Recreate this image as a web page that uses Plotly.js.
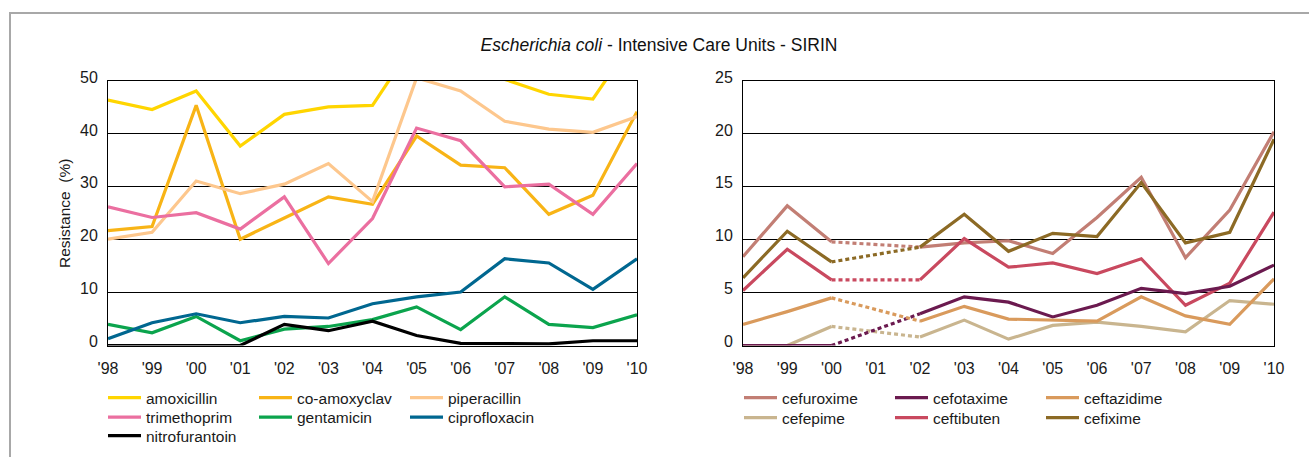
<!DOCTYPE html>
<html><head><meta charset="utf-8">
<script src="https://cdn.plot.ly/plotly-3.0.1.min.js"></script>
<style>
html,body{margin:0;padding:0;background:#fff;overflow:hidden}
#chart{position:absolute;left:0;top:0;width:1309px;height:457px}
#frame{position:absolute;left:9px;top:12px;width:1320px;height:460px;border-left:2px solid #a8a8a8;border-top:2px solid #a8a8a8;pointer-events:none}
</style></head>
<body><div id="chart"></div><div id="frame"></div>
<script>
// ---- data ----
const years = ["'98","'99","'00","'01","'02","'03","'04","'05","'06","'07","'08","'09","'10"];

const amoxicillin    = [46.4, 44.6, 48.1, 37.7, 43.7, 45.1, 45.4, 57.9, 57.0, 50.3, 47.5, 46.6, 58.8];
const coAmoxyclav    = [21.7, 22.5, 45.4, 20.1, 24.1, 28.1, 26.7, 39.6, 34.1, 33.6, 24.8, 28.4, 44.2];
const piperacillin   = [20.1, 21.4, 31.1, 28.7, 30.5, 34.4, 27.2, 50.6, 48.1, 42.4, 40.9, 40.3, 43.3];
const trimethoprim   = [26.2, 24.2, 25.1, 22.0, 28.1, 15.5, 24.0, 41.1, 38.7, 30.0, 30.5, 24.8, 34.4];
const gentamicin     = [4.0, 2.4, 5.5, 0.9, 3.1, 3.6, 4.9, 7.3, 3.0, 9.2, 4.0, 3.4, 5.8];
const ciprofloxacin  = [1.3, 4.3, 6.0, 4.3, 5.5, 5.2, 7.9, 9.2, 10.1, 16.4, 15.6, 10.6, 16.4];
const nitrofurantoin = [0, 0, 0, 0, 4.0, 2.8, 4.6, 1.9, 0.4, 0.3, 0.3, 0.9, 0.9];

const cefuroxime  = [8.4, 13.2, 9.8, null, 9.3, 9.7, 9.9, 8.7, 12.1, 15.9, 8.3, 12.8, 20.2];
const cefotaxime  = [0, 0, 0, null, 3.0, 4.6, 4.1, 2.7, 3.8, 5.4, 4.9, 5.6, 7.6];
const ceftazidime = [2.0, 3.2, 4.5, null, 2.3, 3.7, 2.5, 2.4, 2.3, 4.6, 2.8, 2.0, 6.3];
const cefepime    = [0, 0, 1.8, null, 0.8, 2.4, 0.6, 1.9, 2.2, 1.8, 1.3, 4.25, 3.9];
const ceftibuten  = [5.2, 9.1, 6.2, null, 6.2, 10.1, 7.4, 7.8, 6.8, 8.2, 3.8, 5.9, 12.6];
const cefixime    = [6.4, 10.8, 7.9, null, 9.3, 12.4, 8.9, 10.6, 10.3, 15.4, 9.7, 10.7, 19.5];

// ---- styling ----
const FONT = "'Liberation Sans Narrow', 'Arial Narrow', 'Liberation Sans', Arial, sans-serif";
const W = 1309, H = 457;
const px = v => v / W;
const py = v => 1 - v / H;
const LW = 3.2;

function left(name, y, color, legend, clip) {
  return {type:'scatter', mode:'lines', x: years, y: y, name: name, xaxis:'x', yaxis:'y',
    line:{color:color, width:LW}, legend: legend, cliponaxis: clip, hoverinfo:'skip'};
}
function right(name, y, color, legend) {
  return [
    {type:'scatter', mode:'lines', x: years, y: y, name: name, xaxis:'x2', yaxis:'y2',
      line:{color:color, width:LW}, legend: legend, cliponaxis:false, connectgaps:false, hoverinfo:'skip'},
    {type:'scatter', mode:'lines', x: [years[2], years[4]], y: [y[2], y[4]], name: name, xaxis:'x2', yaxis:'y2',
      line:{color:color, width:LW, dash:'4px,3px'}, showlegend:false, cliponaxis:false, hoverinfo:'skip'}
  ];
}

const C = {
  amox:'#ffd500', coam:'#f8b416', pip:'#fdc78d', trim:'#eb6fa0', gent:'#0ba44d', cip:'#006790', nit:'#000000',
  cefur:'#c27e74', cefot:'#6b1a4f', cefta:'#d99a5c', cefep:'#c9b58f', cefti:'#c9495f', cefix:'#8c6a25'
};

const traces = [
  left('amoxicillin', amoxicillin, C.amox, 'legend', true),
  left('co-amoxyclav', coAmoxyclav, C.coam, 'legend', false),
  left('piperacillin', piperacillin, C.pip, 'legend', false),
  left('trimethoprim', trimethoprim, C.trim, 'legend2', false),
  left('gentamicin', gentamicin, C.gent, 'legend2', false),
  left('ciprofloxacin', ciprofloxacin, C.cip, 'legend2', false),
  left('nitrofurantoin', nitrofurantoin, C.nit, 'legend3', false),
  ...right('cefuroxime', cefuroxime, C.cefur, 'legend4'),
  ...right('cefepime', cefepime, C.cefep, 'legend5'),
  ...right('ceftibuten', ceftibuten, C.cefti, 'legend5'),
  ...right('cefotaxime', cefotaxime, C.cefot, 'legend4'),
  ...right('ceftazidime', ceftazidime, C.cefta, 'legend4'),
  ...right('cefixime', cefixime, C.cefix, 'legend5')
];

const xBase = {type:'category', categoryorder:'array', categoryarray: years, range:[0,12],
  showgrid:false, showline:true, mirror:true, linecolor:'#000', linewidth:1, ticks:'',
  zeroline:false, ticklabelstandoff:8, tickfont:{size:16, color:'#1a1a1a'}, fixedrange:true};
const yBase = {showgrid:true, gridcolor:'#000', gridwidth:1, showline:true, mirror:true,
  linecolor:'#000', linewidth:1, zeroline:false, ticks:'', ticklabelstandoff:6, ticklabelshift:-4,
  tickfont:{size:16, color:'#1a1a1a'}, fixedrange:true};

function legendAt(x, y) {
  return {orientation:'h', x: px(x), y: py(y), xanchor:'left', yanchor:'middle',
    itemwidth:33, entrywidth:103, entrywidthmode:'pixels', bgcolor:'rgba(0,0,0,0)', borderwidth:0,
    font:{family:FONT, size:15.5, color:'#1a1a1a'}, itemclick:false, itemdoubleclick:false};
}

const layout = {
  width:W, height:H, margin:{l:0, r:0, t:0, b:0},
  paper_bgcolor:'#ffffff', plot_bgcolor:'#ffffff',
  font:{family:FONT, size:16, color:'#1a1a1a'},
  title:{text:'<i>Escherichia coli</i> - Intensive Care Units - SIRIN', x:px(659), y:py(45),
    xanchor:'center', yanchor:'middle', font:{family:FONT, size:17.5, color:'#111'}},
  xaxis: Object.assign({}, xBase, {domain:[px(108), px(637)], anchor:'y'}),
  yaxis: Object.assign({}, yBase, {domain:[py(345.5), py(81)], range:[0,50], tick0:0, dtick:10, anchor:'x',
    title:{text:'Resistance\u00a0\u00a0(%)', standoff:5, font:{family:FONT, size:15.5, color:'#1a1a1a'}}}),
  xaxis2: Object.assign({}, xBase, {domain:[px(743), px(1274)], anchor:'y2'}),
  yaxis2: Object.assign({}, yBase, {domain:[py(345.5), py(81)], range:[0,25], tick0:0, dtick:5, anchor:'x2'}),
  legend: legendAt(103, 398),
  legend2: legendAt(103, 417.5),
  legend3: legendAt(103, 436),
  legend4: legendAt(739, 398),
  legend5: legendAt(739, 418),
  showlegend:true,
  hovermode:false
};

Plotly.newPlot('chart', traces, layout, {displayModeBar:false, staticPlot:true});
</script>
</body></html>
